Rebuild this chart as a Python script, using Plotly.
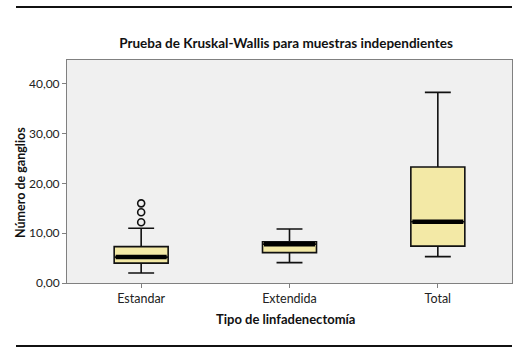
import plotly.graph_objects as go

categories = ["Estandar", "Extendida", "Total"]
q1 = [4.0, 6.1, 7.4]
median = [5.2, 7.8, 12.3]
q3 = [7.3, 8.3, 23.3]
lowerfence = [2.0, 4.1, 5.3]
upperfence = [11.0, 10.85, 38.3]
outlier_cat = [0, 0, 0]
outlier_vals = [12.2, 14.2, 16.0]
ytick_vals = [0, 10, 20, 30, 40]
ytick_text = ["0,00", "10,00", "20,00", "30,00", "40,00"]

positions = list(range(len(categories)))
box_width = 0.364
half = box_width / 2

FONT = "Lato, 'Open Sans', sans-serif"

fig = go.Figure()
fig.add_trace(go.Box(
    x=positions, q1=q1, median=median, q3=q3,
    lowerfence=lowerfence, upperfence=upperfence,
    width=box_width, whiskerwidth=0.48,
    fillcolor="#F3E9A6", line=dict(color="#111111", width=1.6),
    boxpoints=False, showlegend=False, hoverinfo="skip",
))

mx, my = [], []
for p, m in zip(positions, median):
    mx += [p - half + 0.01, p + half - 0.01, None]
    my += [m, m, None]
fig.add_trace(go.Scatter(x=mx, y=my, mode="lines",
                         line=dict(color="#000000", width=4.5),
                         showlegend=False, hoverinfo="skip"))

fig.add_trace(go.Scatter(x=outlier_cat, y=outlier_vals, mode="markers",
                         marker=dict(symbol="circle-open", size=7,
                                     color="#111111", line=dict(width=1.6)),
                         showlegend=False, hoverinfo="skip"))

fig.update_layout(
    width=524, height=361,
    margin=dict(l=67, r=12, t=60, b=78),
    paper_bgcolor="white", plot_bgcolor="#F0F0F0",
    font=dict(family=FONT, color="#222222", size=11),
    title=dict(text="<b>Prueba de Kruskal-Wallis para muestras independientes</b>",
               x=286 / 524, xanchor="center", y=1 - 43 / 361, yanchor="middle",
               font=dict(size=13.5, family=FONT, color="#111111")),
    xaxis=dict(range=[-0.5, 2.5], tickvals=positions, ticktext=categories,
               showgrid=False, zeroline=False, showline=True, mirror=True,
               linecolor="#808080", linewidth=1, ticks="outside", ticklen=4,
               tickcolor="#808080", tickfont=dict(size=12.5, color="#222222")),
    yaxis=dict(range=[0, 44.8], tickvals=ytick_vals, ticktext=ytick_text,
               showgrid=False, zeroline=False, showline=True, mirror=True,
               linecolor="#808080", linewidth=1, ticks="outside", ticklen=4,
               tickcolor="#808080", tickfont=dict(size=12, color="#222222")),
    shapes=[
        dict(type="line", xref="paper", yref="paper",
             x0=(16 - 67) / 445, x1=1.0, y0=(283 - 7) / 223, y1=(283 - 7) / 223,
             line=dict(color="#111111", width=2)),
        dict(type="line", xref="paper", yref="paper",
             x0=(16 - 67) / 445, x1=1.0, y0=(283 - 346) / 223, y1=(283 - 346) / 223,
             line=dict(color="#111111", width=2)),
    ],
    annotations=[
        dict(text="<b>Número de ganglios</b>", textangle=-90,
             xref="paper", yref="paper", x=(20 - 67) / 445, y=(283 - 183) / 223,
             xanchor="center", yanchor="middle", showarrow=False,
             font=dict(size=12.5, family=FONT, color="#111111")),
        dict(text="<b>Tipo de linfadenectomía</b>",
             xref="paper", yref="paper", x=(285 - 67) / 445, y=(283 - 319) / 223,
             xanchor="center", yanchor="middle", showarrow=False,
             font=dict(size=13, family=FONT, color="#111111")),
    ],
)

fig.write_html("out.html")
